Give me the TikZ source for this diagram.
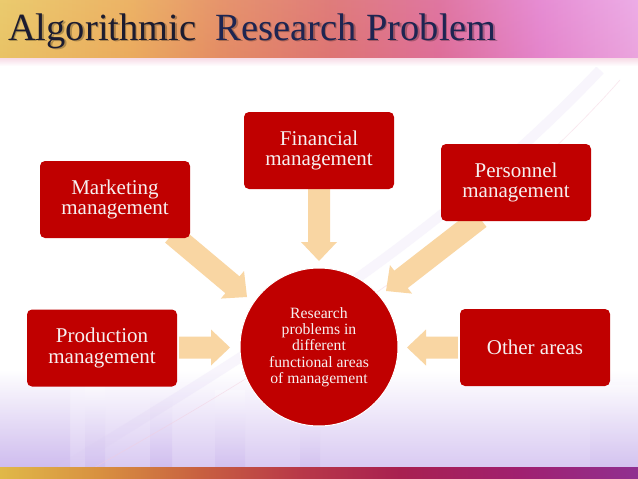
\documentclass[tikz,border=0pt]{standalone}
\usepackage{fontspec}
\setmainfont{Liberation Serif}
\usetikzlibrary{calc}
\definecolor{boxred}{HTML}{C00000}
\definecolor{boxtext}{HTML}{F6F0F0}
\definecolor{arrowpeach}{HTML}{F9D6A3}
\definecolor{titledark}{HTML}{1C1C30}
\definecolor{titlenavy}{HTML}{1E2552}
\definecolor{tA}{HTML}{E6BE4A}
\definecolor{tB}{HTML}{E8A040}
\definecolor{tC}{HTML}{E07A48}
\definecolor{tD}{HTML}{D85C5A}
\definecolor{tE}{HTML}{D8548A}
\definecolor{tF}{HTML}{E070C8}
\definecolor{tG}{HTML}{E898E0}
\definecolor{bA}{HTML}{E0B848}
\definecolor{bB}{HTML}{D89040}
\definecolor{bC}{HTML}{C86040}
\definecolor{bD}{HTML}{B83848}
\definecolor{bE}{HTML}{A82050}
\definecolor{bF}{HTML}{A02070}
\definecolor{bG}{HTML}{903090}
\definecolor{lav}{HTML}{D9CAF2}
\definecolor{lavdeep}{HTML}{C6B0EC}
\pgfdeclarelayer{back}
\pgfdeclarelayer{arrowlayer}
\pgfsetlayers{back,arrowlayer,main}
\newcommand\blockarrow[2]{%
  \coordinate (bas) at (#1);
  \coordinate (bat) at (#2);
  \coordinate (bah) at ($(bat)!19pt!(bas)$);
  \fill[arrowpeach] ($(bas)!11pt!90:(bat)$) -- ($(bah)!11pt!90:(bat)$) --
    ($(bah)!18pt!90:(bat)$) -- (bat) -- ($(bah)!18pt!-90:(bat)$) --
    ($(bah)!11pt!-90:(bat)$) -- ($(bas)!11pt!-90:(bat)$) -- cycle;}
\tikzset{
  areabox/.style={fill=boxred, rounded corners=5pt, minimum width=150pt,
    minimum height=77pt, inner sep=2pt, align=center, text=boxtext,
    font=\fontsize{21}{20.5}\selectfont},
  hub/.style={circle, fill=boxred, draw=white, line width=1pt, minimum size=158pt,
    inner sep=0pt, align=center, text=boxtext,
    font=\fontsize{15.7}{16.3}\selectfont},
  titletext/.style={anchor=base west, inner sep=0pt,
    font=\fontsize{38.5}{40}\selectfont},
  streak/.style={top color=white, bottom color=lavdeep}
}
\begin{document}
\begin{tikzpicture}[x=1pt, y=-1pt]
\useasboundingbox (0,0) rectangle (638,479);
% nodes
\node[areabox] (mkt) at (115,199.5) {Marketing\\management};
\node[areabox] (fin) at (319,150.5) {Financial\\management};
\node[areabox] (per) at (516,182.5) {Personnel\\management};
\node[areabox] (prod) at (102,348) {Production\\management};
\node[areabox] (oth) at (535,347.5) {Other areas};
\node[hub] (hubc) at (319,347) {Research\\problems in\\different\\functional areas\\of management};
\node[titletext, text=black, opacity=0.25] (titleshadow) at (9.5,41.5) {Algorithmic\hspace{0.25em} Research Problem};
\node[titletext] (title) at (8,40) {\textcolor{titledark}{Algorithmic}\hspace{0.25em} \textcolor{titlenavy}{Research Problem}};
% arrow tips
\coordinate (mktT) at (247,297);
\coordinate (finT) at (319,261);
\coordinate (perT) at (386,291);
\coordinate (prodT) at (230,347.5);
\coordinate (othT) at (407,347.5);
\begin{pgfonlayer}{arrowlayer}
  \blockarrow{$(mkt.south east)+(-18,-4)$}{mktT}
  \blockarrow{$(fin.south)+(0,-2)$}{finT}
  \blockarrow{$(per.south west)+(39,-3)$}{perT}
  \blockarrow{$(prod.east)+(2,-0.5)$}{prodT}
  \blockarrow{$(oth.west)+(-2,0)$}{othT}
\end{pgfonlayer}
\begin{pgfonlayer}{back}
  \fill[white] (0,0) rectangle (638,479);
  % lower lavender wash
  \shade[top color=white, bottom color=lav] (0,370) rectangle (638,467);
  \shade[streak, opacity=0.5] (0,370) rectangle (70,467);
  \shade[streak, opacity=0.35] (85,385) rectangle (105,467);
  \shade[streak, opacity=0.45] (150,380) rectangle (172,467);
  \shade[streak, opacity=0.35] (215,390) rectangle (245,467);
  \shade[streak, opacity=0.3] (300,400) rectangle (320,467);
  \shade[streak, opacity=0.25] (590,385) rectangle (638,467);
  % faint swirl
  \draw[lav, line width=10pt, opacity=0.18] (60,470) .. controls (220,370) and (430,250) .. (600,70);
  \draw[tE!30, line width=0.6pt, opacity=0.5] (90,470) .. controls (250,380) and (470,250) .. (620,80);
  % top band
  \shade[left color=tA, right color=tB] (0,0) rectangle (130,58);
  \shade[left color=tB, right color=tC] (129.5,0) rectangle (220,58);
  \shade[left color=tC, right color=tD] (219.5,0) rectangle (330,58);
  \shade[left color=tD, right color=tE] (329.5,0) rectangle (440,58);
  \shade[left color=tE, right color=tF] (439.5,0) rectangle (540,58);
  \shade[left color=tF, right color=tG] (539.5,0) rectangle (638,58);
  \shade[top color=white, bottom color=tD!25, opacity=0.2] (0,0) rectangle (638,58);
  \draw[tE!70!white, line width=1pt] (0,58) -- (638,58);
  \shade[top color=tE!20, bottom color=white] (0,58.5) rectangle (638,66);
  % bottom band
  \shade[left color=bA, right color=bB] (0,467) rectangle (100,479);
  \shade[left color=bB, right color=bC] (99.5,467) rectangle (200,479);
  \shade[left color=bC, right color=bD] (199.5,467) rectangle (300,479);
  \shade[left color=bD, right color=bE] (299.5,467) rectangle (400,479);
  \shade[left color=bE, right color=bF] (399.5,467) rectangle (520,479);
  \shade[left color=bF, right color=bG] (519.5,467) rectangle (638,479);
\end{pgfonlayer}
\end{tikzpicture}
\end{document}
